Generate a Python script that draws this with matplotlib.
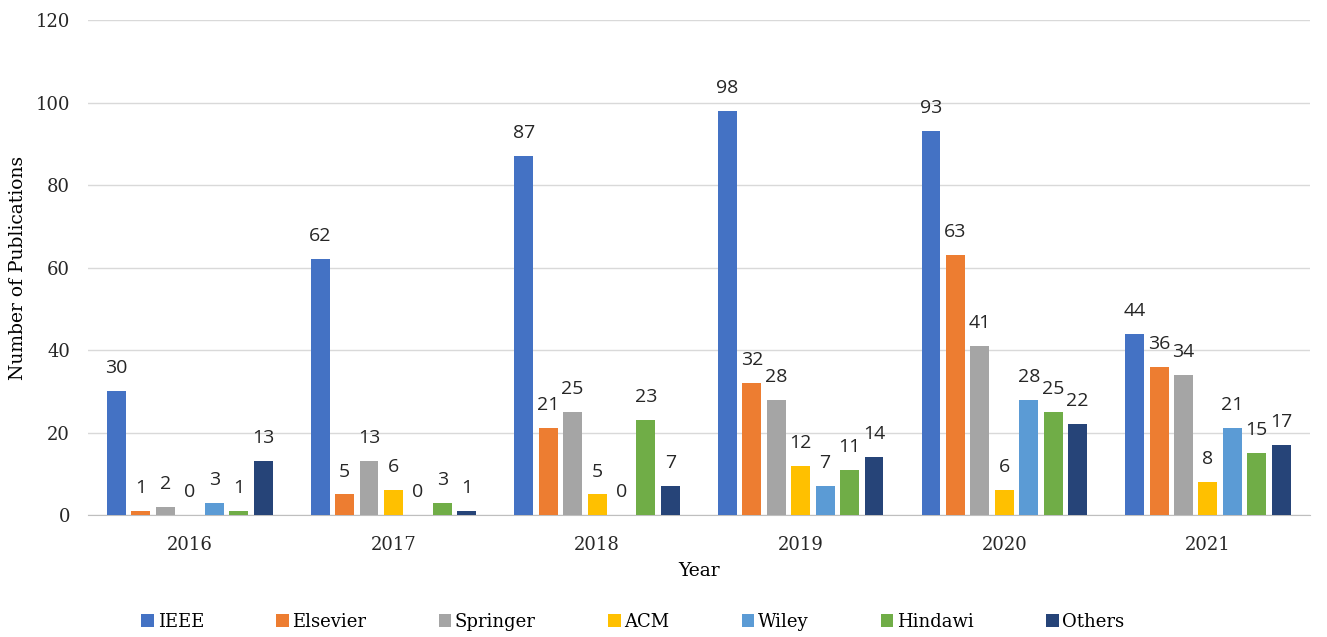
import numpy as np
import matplotlib.pyplot as plt

years = ["2016", "2017", "2018", "2019", "2020", "2021"]
publishers = ["IEEE", "Elsevier", "Springer", "ACM", "Wiley", "Hindawi", "Others"]

ieee = [30, 62, 87, 98, 93, 44]
elsevier = [1, 5, 21, 32, 63, 36]
springer = [2, 13, 25, 28, 41, 34]
acm = [0, 6, 5, 12, 6, 8]
wiley = [3, 0, 0, 7, 28, 21]
hindawi = [1, 3, 23, 11, 25, 15]
others = [13, 1, 7, 14, 22, 17]

colors = ["#4472C4", "#ED7D31", "#A5A5A5", "#FFC000", "#5B9BD5", "#70AD47", "#264478"]

series = [ieee, elsevier, springer, acm, wiley, hindawi, others]

SERIF = "DejaVu Serif"
SANS = "Open Sans"

fig = plt.figure(figsize=(13.27, 6.37), dpi=100)
ax = fig.add_axes([0.0663, 0.1915, 0.9207, 0.7771])

x = np.arange(len(years))
step = 0.12
width = 0.093
for i, (name, vals, c) in enumerate(zip(publishers, series, colors)):
    pos = x + (i - 3) * step
    bars = ax.bar(pos, vals, width=width, color=c, label=name, zorder=3)
    ax.bar_label(bars, padding=10, fontsize=14, family=SANS, color="#262626")

ax.set_ylim(0, 120)
ax.set_xlim(-0.5, len(years) - 0.5)
ax.set_yticks(range(0, 121, 20))
ax.set_xticks(x)
ax.set_xticklabels(years)
ax.tick_params(axis="both", length=0, labelsize=13, colors="#262626")
ax.tick_params(axis="y", pad=13)
ax.tick_params(axis="x", pad=15)
for lab in ax.get_xticklabels() + ax.get_yticklabels():
    lab.set_family(SERIF)

ax.grid(axis="y", color="#D9D9D9", linewidth=1, zorder=0)
for s in ["top", "right", "left"]:
    ax.spines[s].set_visible(False)
ax.spines["bottom"].set_color("#BFBFBF")

ax.set_xlabel("Year", family=SERIF, fontsize=13.5, labelpad=6)
ax.set_ylabel("Number of Publications", family=SERIF, fontsize=13.5, labelpad=6)

ax.legend(loc="upper center", bbox_to_anchor=(0.446, -0.165), ncol=7, frameon=False,
          prop={"family": SERIF, "size": 13}, handlelength=0.7, handleheight=0.7,
          handletextpad=0.2, columnspacing=4.0)

fig.savefig("out.png", dpi=100)
